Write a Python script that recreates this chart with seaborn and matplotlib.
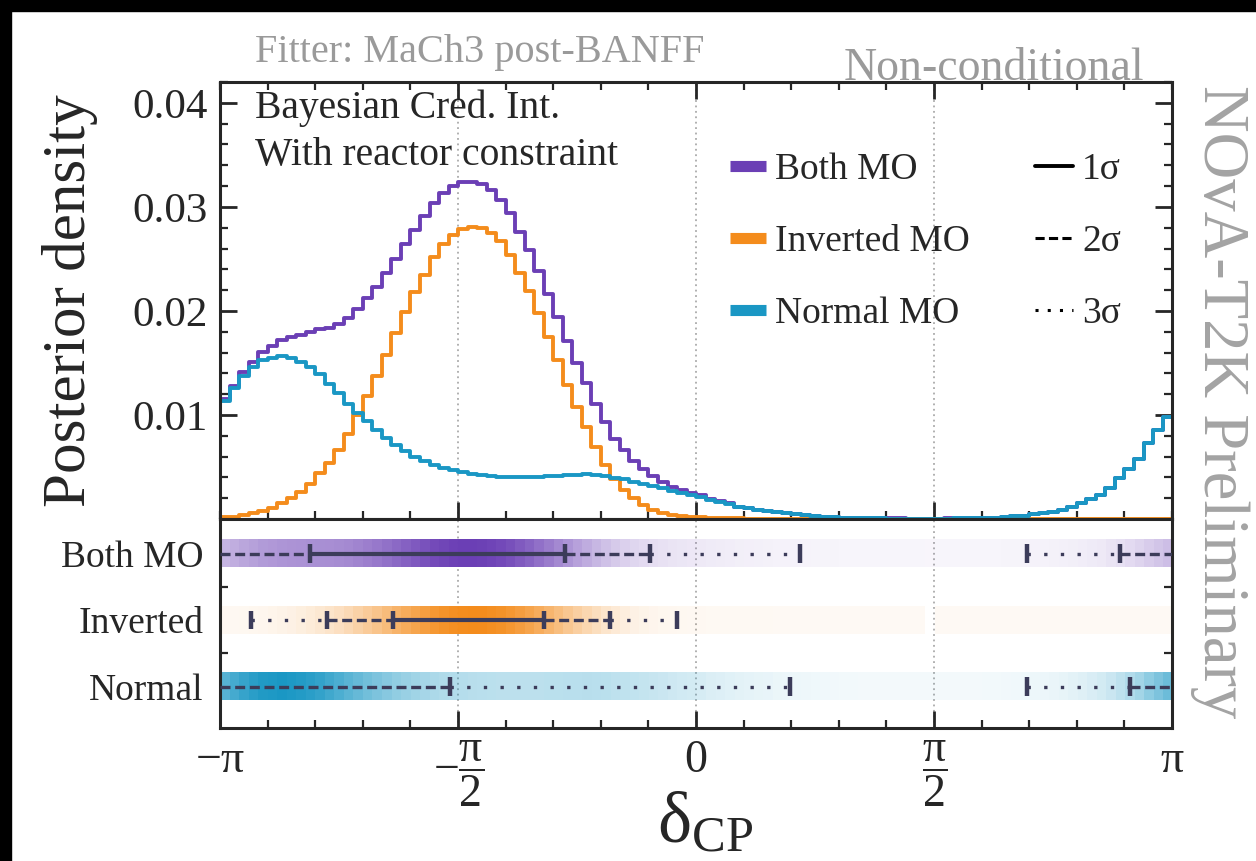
import numpy as np
import matplotlib
matplotlib.use("Agg")
import matplotlib.pyplot as plt
import seaborn as sns
from matplotlib.lines import Line2D
from matplotlib.patches import Rectangle
from matplotlib.ticker import MultipleLocator
from matplotlib.colors import to_rgb

# ---- data ----
# 100 equal bins in delta_CP over [-pi, pi]
n_bins = 100
edges = np.linspace(-np.pi, np.pi, n_bins + 1)
centers = 0.5 * (edges[:-1] + edges[1:])

normal_mo = [
    0.0113, 0.0126, 0.0137, 0.0146, 0.0153, 0.0155, 0.0157, 0.0155, 0.0151, 0.0146,
    0.0139, 0.0130, 0.0121, 0.0111, 0.0102, 0.0094, 0.0086, 0.0078, 0.0071, 0.0065,
    0.0060, 0.0056, 0.0052, 0.0049, 0.0047, 0.0045, 0.0043, 0.0042, 0.0041, 0.0040,
    0.0040, 0.0040, 0.0040, 0.0040, 0.0041, 0.0041, 0.0042, 0.0042, 0.0043, 0.0042,
    0.0041, 0.0039, 0.0038, 0.0036, 0.0034, 0.0032, 0.0030, 0.0027, 0.0025, 0.0023,
    0.0021, 0.0018, 0.0016, 0.0014, 0.0012, 0.00105, 0.0009, 0.0008, 0.00065, 0.00055,
    0.00045, 0.00035, 0.00028, 0.00022, 0.00017, 0.00013, 0.0001, 0.00008, 0.00006, 0.00005,
    0.00004, 0.00004, 0.00003, 0.00003, 0.00003, 0.00003, 0.00004, 0.00005, 0.00006, 0.00008,
    0.0001, 0.00013, 0.00018, 0.00025, 0.00032, 0.00045, 0.00055, 0.0007, 0.0009, 0.0012,
    0.0015, 0.0019, 0.0023, 0.0030, 0.0039, 0.0048, 0.0058, 0.0073, 0.0086, 0.0098,
]

inverted_mo = [
    0.00016, 0.00022, 0.00035, 0.00054, 0.0008, 0.0011, 0.0015, 0.0020, 0.0026, 0.0034,
    0.0044, 0.0054, 0.0066, 0.0082, 0.0100, 0.0118, 0.0137, 0.0158, 0.0179, 0.0199,
    0.0218, 0.0235, 0.0252, 0.0264, 0.0273, 0.0279, 0.0281, 0.0280, 0.0275, 0.0267,
    0.0254, 0.0236, 0.0219, 0.0198, 0.0175, 0.0153, 0.0129, 0.0108, 0.0088, 0.0069,
    0.0052, 0.0038, 0.0028, 0.0020, 0.00135, 0.0009, 0.00055, 0.0004, 0.0003, 0.0002,
    0.00015, 0.0001, 0.00008, 0.00006, 0.00005, 0.00004, 0.00003, 0.00003, 0.00002, 0.00002,
    0.00002, 0.00002, 0.00001, 0.00001, 0.00001, 0.00001, 0.00001, 0.00001, 0.00001, 0.00001,
    0.00001, 0.00001, 0.00001, 0.00001, 0.0, 0.00001, 0.00001, 0.00001, 0.00001, 0.00001,
    0.00001, 0.00001, 0.00001, 0.00001, 0.00001, 0.00001, 0.00001, 0.00001, 0.00001, 0.00001,
    0.00001, 0.00001, 0.00001, 0.00001, 0.00001, 0.00001, 0.00001, 0.00001, 0.00001, 0.00001,
]

both_mo = [
    0.0115, 0.0128, 0.0141, 0.0151, 0.0161, 0.0166, 0.0172, 0.0175, 0.0177, 0.0180,
    0.0183, 0.0184, 0.0187, 0.0193, 0.0202, 0.0212, 0.0223, 0.0236, 0.0250, 0.0264,
    0.0278, 0.0291, 0.0304, 0.0313, 0.0320, 0.0324, 0.0324, 0.0322, 0.0316, 0.0307,
    0.0294, 0.0276, 0.0259, 0.0238, 0.0216, 0.0194, 0.0171, 0.0150, 0.0131, 0.0111,
    0.0093, 0.0077, 0.0066, 0.0056, 0.0048, 0.0041, 0.0036, 0.0031, 0.0028, 0.0025,
    0.0023, 0.0019, 0.0017, 0.0015, 0.0012, 0.0011, 0.0009, 0.0008, 0.00067, 0.00057,
    0.00046, 0.00036, 0.00029, 0.00023, 0.00018, 0.00014, 0.00011, 0.00009, 0.00007, 0.00006,
    0.00005, 0.00005, 0.00004, 0.00004, 0.00003, 0.00004, 0.00005, 0.00006, 0.00007, 0.00009,
    0.00011, 0.00014, 0.00019, 0.00026, 0.00033, 0.00046, 0.00056, 0.00071, 0.00091, 0.0012,
    0.0015, 0.0019, 0.0023, 0.0030, 0.0039, 0.0048, 0.0058, 0.0073, 0.0086, 0.0098,
]

# credible interval pieces (radians): 1 sigma solid, 2 sigma dashed, 3 sigma dotted
both_1s = [(-2.548, -0.865)]
both_2s = [(-np.pi, -2.548), (-0.865, -0.304), (2.798, np.pi)]
both_3s = [(-0.304, 0.686), (2.185, 2.798)]
both_caps = [-2.548, -0.865, -0.304, 0.686, 2.185, 2.798]

inv_1s = [(-2.0, -1.003)]
inv_2s = [(-2.435, -2.0), (-1.003, -0.568)]
inv_3s = [(-2.937, -2.435), (-0.568, -0.125)]
inv_caps = [-2.937, -2.435, -2.0, -1.003, -0.568, -0.125]

norm_1s = []
norm_2s = [(-np.pi, -1.624), (2.864, np.pi)]
norm_3s = [(-1.624, 0.620), (2.185, 2.864)]
norm_caps = [-1.624, 0.620, 2.185, 2.864]

row_labels = ["Normal", "Inverted", "Both MO"]

# ---- style ----
c_both = "#6b3fb5"
c_inv = "#f48c1c"
c_norm = "#1a97c4"
c_int = "#3c3c5a"
gray = "#9a9a9a"

sns.set_style("ticks")
plt.rcParams["font.family"] = ["Liberation Serif", "DejaVu Serif"]
plt.rcParams["mathtext.fontset"] = "custom"
plt.rcParams["mathtext.rm"] = "Liberation Serif"
plt.rcParams["mathtext.it"] = "Liberation Serif:italic"
plt.rcParams["mathtext.bf"] = "Liberation Serif:bold"
plt.rcParams["axes.linewidth"] = 2.2

fig = plt.figure(figsize=(12.56, 8.61), dpi=100)
# black frame strips along the top and left edge of the picture
fig.patches.append(Rectangle((0, 1 - 11 / 861), 1, 11 / 861, transform=fig.transFigure,
                             color="black", zorder=-1))
fig.patches.append(Rectangle((0, 0), 11 / 1256, 1, transform=fig.transFigure,
                             color="black", zorder=-1))

ax = fig.add_axes([0.1752, 0.3972, 0.7580, 0.5075])
axb = fig.add_axes([0.1752, 0.1545, 0.7580, 0.2427])

# ---- top panel: posterior histograms ----
for vals, col in [(both_mo, c_both), (inverted_mo, c_inv), (normal_mo, c_norm)]:
    sns.histplot(x=centers, weights=np.asarray(vals), bins=n_bins, binrange=(-np.pi, np.pi),
                 element="step", fill=False, color=col, linewidth=2.8, ax=ax)

for a in (ax, axb):
    for v in (-np.pi / 2, 0, np.pi / 2):
        a.axvline(v, color="#aaaaaa", ls=(0, (1, 2)), lw=1.3, zorder=0)

ax.set_xlim(-np.pi, np.pi)
ax.set_ylim(0, 0.042)
ax.set_xticks([-np.pi / 2, 0, np.pi / 2])
ax.xaxis.set_minor_locator(MultipleLocator(np.pi / 10))
ax.set_yticks([0.01, 0.02, 0.03, 0.04])
ax.set_yticklabels(["0.01", "0.02", "0.03", "0.04"])
ax.yaxis.set_minor_locator(MultipleLocator(0.002))
ax.tick_params(which="both", direction="in", top=True, right=True, labelbottom=False,
               labelsize=31, pad=9)
ax.tick_params(which="major", length=12, width=2)
ax.tick_params(which="minor", length=6, width=1.6)
ax.set_xlabel("")
ax.set_ylabel("Posterior density", fontsize=44)
ax.yaxis.set_label_coords(-0.128, 0.5)

ax.text(0.037, 0.918, "Bayesian Cred. Int.", transform=ax.transAxes, fontsize=28.5,
        va="baseline")
ax.text(0.037, 0.810, "With reactor constraint", transform=ax.transAxes, fontsize=28.5,
        va="baseline")

mo_handles = [Line2D([], [], color=c, lw=8, solid_capstyle="butt") for c in (c_both, c_inv, c_norm)]
leg1 = ax.legend(mo_handles, ["Both MO", "Inverted MO", "Normal MO"], loc="center left",
                 bbox_to_anchor=(0.536, 0.634), frameon=False, fontsize=27,
                 handlelength=0.95, handletextpad=0.25, labelspacing=1.0,
                 borderpad=0, borderaxespad=0)
ax.add_artist(leg1)
sig_handles = [Line2D([], [], color="black", lw=2.8, ls="-"),
               Line2D([], [], color="black", lw=2.2, ls=(0, (3, 1.4))),
               Line2D([], [], color="black", lw=2.2, ls=(0, (1, 3)))]
ax.legend(sig_handles, ["1\u03c3", "2\u03c3", "3\u03c3"], loc="center left",
          bbox_to_anchor=(0.856, 0.634), frameon=False, fontsize=27,
          handlelength=1.0, handletextpad=0.25, labelspacing=1.0,
          borderpad=0, borderaxespad=0)

# ---- bottom panel: shaded bands with credible intervals ----
rows = [
    (0, normal_mo, c_norm, norm_1s, norm_2s, norm_3s, norm_caps),
    (1, inverted_mo, c_inv, inv_1s, inv_2s, inv_3s, inv_caps),
    (2, both_mo, c_both, both_1s, both_2s, both_3s, both_caps),
]
half = 0.205
for y, vals, col, s1, s2, s3, caps in rows:
    v = np.asarray(vals)
    rgba = np.zeros((1, n_bins, 4))
    rgba[..., :3] = to_rgb(col)
    rgba[0, :, 3] = np.where(v > 0, 0.05 + 0.95 * v / v.max(), 0.0)
    axb.imshow(rgba, extent=(-np.pi, np.pi, y - half, y + half), aspect="auto",
               interpolation="nearest", zorder=1)
    for lo, hi in s1:
        axb.plot([lo, hi], [y, y], color=c_int, lw=3, ls="-", zorder=3)
    for lo, hi in s2:
        axb.plot([lo, hi], [y, y], color=c_int, lw=2.4, ls=(0, (3, 1.4)), zorder=3)
    for lo, hi in s3:
        axb.plot([lo, hi], [y, y], color=c_int, lw=2.4, ls=(0, (1, 4)), zorder=3)
    axb.vlines(caps, y - 0.14, y + 0.14, color=c_int, lw=3.2, zorder=3)

axb.set_xlim(-np.pi, np.pi)
axb.set_ylim(-0.62, 2.52)
axb.set_yticks([0, 1, 2])
axb.set_yticklabels(row_labels)
axb.set_yticks([0.5, 1.5], minor=True)
axb.tick_params(axis="y", which="major", length=0, pad=12, labelsize=27)
axb.tick_params(axis="y", which="minor", length=6, width=1.6, direction="in",
                left=True, right=True)
axb.set_xticks([-np.pi, -np.pi / 2, 0, np.pi / 2, np.pi])
axb.set_xticklabels([r"$-\mathrm{\pi}$", r"$-\dfrac{\mathrm{\pi}}{2}$", "0",
                     r"$\dfrac{\mathrm{\pi}}{2}$", r"$\mathrm{\pi}$"])
axb.xaxis.set_minor_locator(MultipleLocator(np.pi / 10))
axb.tick_params(axis="x", which="both", direction="in", top=False, bottom=True,
                labelsize=33, pad=8)
axb.tick_params(axis="x", which="major", length=12, width=2)
axb.tick_params(axis="x", which="minor", length=6, width=1.6)
axb.set_xlabel(r"$\mathrm{\delta}_{\mathrm{CP}}$", fontsize=52)
axb.xaxis.set_label_coords(0.51, -0.31)

# ---- gray header texts ----
fig.text(0.203, 0.928, "Fitter: MaCh3 post-BANFF", color=gray, fontsize=29, va="baseline")
fig.text(0.911, 0.907, "Non-conditional", color=gray, fontsize=33, ha="right", va="baseline")
fig.text(0.971, 0.901, "NOvA-T2K Preliminary", color="#a3a3a3", fontsize=46.5,
         rotation=270, ha="center", va="top")

fig.savefig("out.png", dpi=100)
